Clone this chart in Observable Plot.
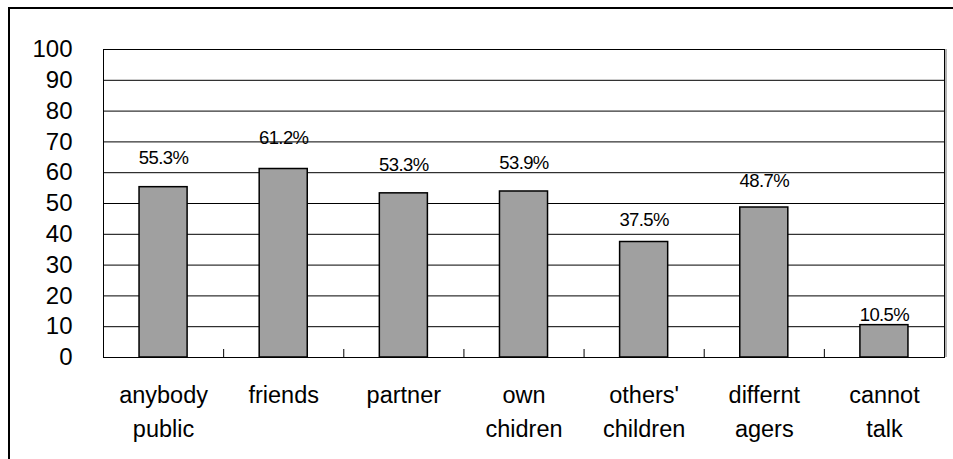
<!DOCTYPE html>
<html>
<head>
<meta charset="utf-8">
<script src="https://cdn.jsdelivr.net/npm/d3@7"></script>
<script src="https://cdn.jsdelivr.net/npm/@observablehq/plot@0.6"></script>
<style>
  body { margin: 0; background: #fff; }
  #wrap { position: relative; width: 953px; height: 459px; overflow: hidden; }
  #wrap svg { position: absolute; left: 0; top: 0; background: transparent; }
  #outer { position: absolute; left: 8px; top: 7px; width: 1000px; height: 500px;
           border-left: 2px solid #000; border-top: 2px solid #000; box-sizing: border-box; }
  .vals text { letter-spacing: -0.6px; }
</style>
</head>
<body>
<div id="wrap"><div id="outer"></div></div>
<script>
// Who people talk to: share of respondents per group (%)
const categories = ["anybody\npublic", "friends", "partner", "own\nchidren", "others'\nchildren", "differnt\nagers", "cannot\ntalk"];
const values = [55.3, 61.2, 53.3, 53.9, 37.5, 48.7, 10.5];
const yTicks = [0, 10, 20, 30, 40, 50, 60, 70, 80, 90, 100];

const data = categories.map((c, i) => ({i, category: c, value: values[i]}));
const centers = data.map(d => d.i + 0.5);
const boundaries = d3.range(1, categories.length);

const chart = Plot.plot({
  width: 953,
  height: 459,
  marginLeft: 103,
  marginRight: 9,
  marginTop: 49,
  marginBottom: 102,
  style: {fontFamily: "'Liberation Sans', Arial, sans-serif", color: "#000", background: "transparent"},
  x: {type: "linear", domain: [0, categories.length], axis: null},
  y: {domain: [0, 100], axis: null},
  marks: [
    Plot.gridY(yTicks, {stroke: "#000", strokeOpacity: 1}),
    Plot.ruleX([categories.length], {y1: 0, y2: 100, stroke: "#999", strokeWidth: 1.5, dx: 1.5}),
    Plot.frame({stroke: "#000"}),
    Plot.rectY(data, {x1: d => d.i + 0.3, x2: d => d.i + 0.7, y: "value", fill: "#a0a0a0", stroke: "#000", strokeWidth: 1.5}),
    Plot.axisX(boundaries, {tickSize: -8, tickFormat: () => "", label: null}),
    Plot.axisX(centers, {tickSize: 0, tickPadding: 22, fontSize: 23.5, lineHeight: 1.42, label: null,
      tickFormat: x => categories[Math.floor(x)]}),
    Plot.axisY(yTicks, {tickSize: 0, tickPadding: 31, fontSize: 24, label: null}),
    Plot.text(data, {x: d => d.i + 0.5, y: d => d.value * 1.135, text: d => d.value.toFixed(1) + "%",
      lineAnchor: "bottom", fontSize: 18.5, className: "vals"})
  ]
});
document.getElementById("wrap").prepend(chart);
</script>
</body>
</html>
